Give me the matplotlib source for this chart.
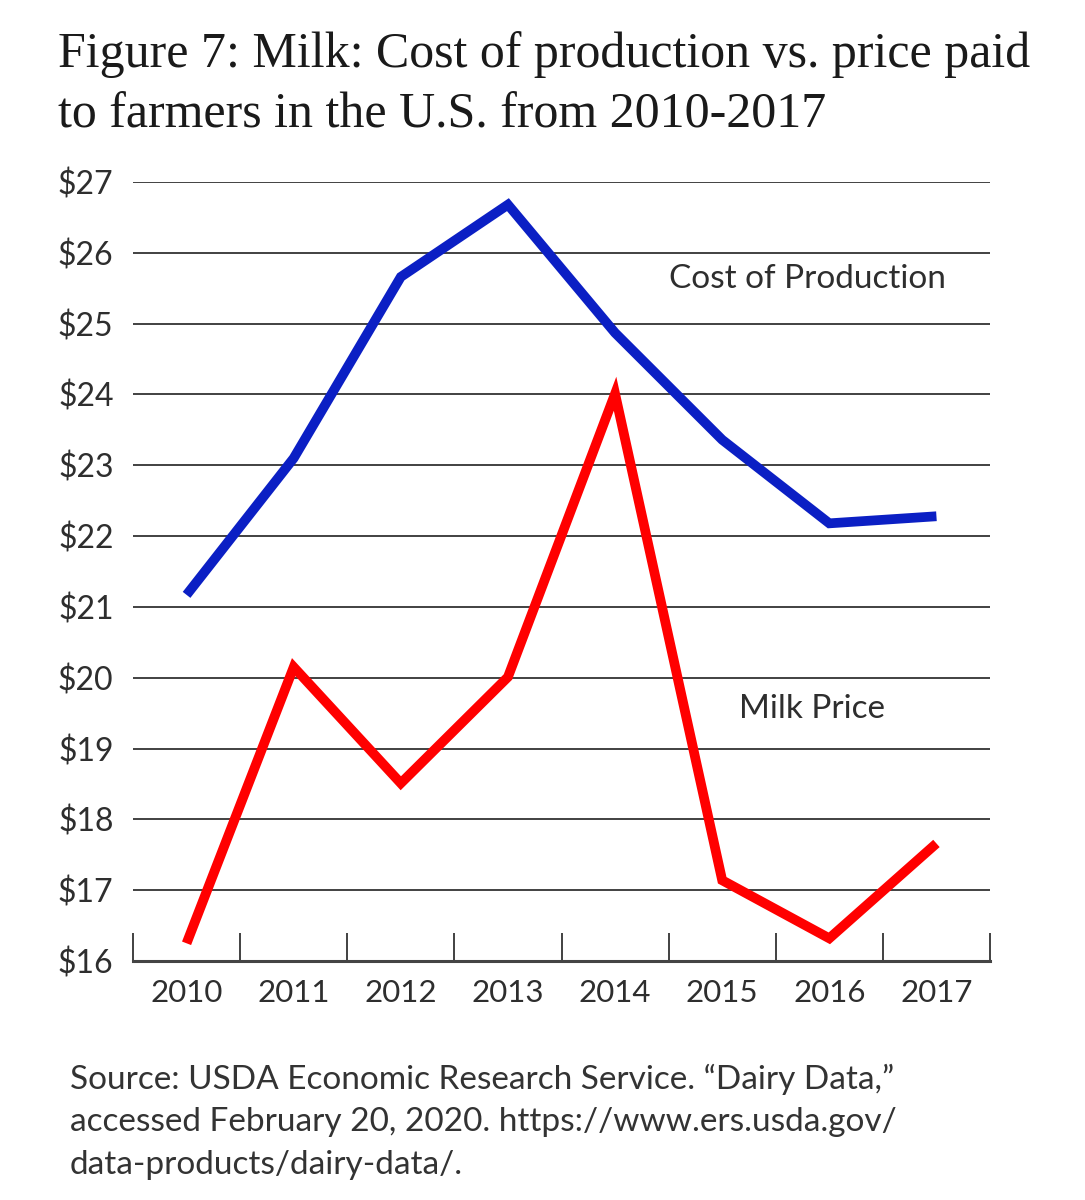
import matplotlib
matplotlib.use("Agg")
import matplotlib.pyplot as plt
from matplotlib.ticker import FixedLocator

years = ["2010", "2011", "2012", "2013", "2014", "2015", "2016", "2017"]
cost_of_production = [21.17, 23.10, 25.66, 26.68, 24.87, 23.36, 22.18, 22.28]
milk_price = [16.25, 20.15, 18.51, 20.01, 24.01, 17.14, 16.32, 17.66]
y_ticks = list(range(16, 28))
y_labels = [f"${v}" for v in y_ticks]

sans = ["Lato", "DejaVu Sans"]
serif = ["Liberation Serif", "DejaVu Serif"]
txt_color = "#2e2e2e"

fig = plt.figure(figsize=(10.85, 12), dpi=100)
ax = fig.add_axes([133/1085, 1 - 961/1200, (990-133)/1085, (961-182)/1200])

x = list(range(len(years)))
ax.plot(x, cost_of_production, color="#0b1fc4", lw=7, solid_capstyle="butt", solid_joinstyle="miter", zorder=3)
ax.plot(x, milk_price, color="#ff0000", lw=7, solid_capstyle="butt", solid_joinstyle="miter", zorder=3)

ax.set_xlim(-0.5, len(years) - 0.5)
ax.set_ylim(16, 27)

ax.yaxis.set_major_locator(FixedLocator(y_ticks))
ax.set_yticklabels(y_labels, fontsize=23, color=txt_color, family=sans)
ax.tick_params(axis="y", length=0, pad=14)
for v in y_ticks[1:]:
    ax.axhline(v, color="#333333", lw=1.3, zorder=1)

ax.xaxis.set_major_locator(FixedLocator([i - 0.5 for i in range(len(years) + 1)]))
ax.xaxis.set_minor_locator(FixedLocator(x))
ax.set_xticklabels([""] * (len(years) + 1))
ax.set_xticklabels(years, minor=True, fontsize=22.5, color=txt_color, family=sans)
ax.tick_params(axis="x", which="major", direction="in", length=20, width=1.3, color="#333333")
ax.tick_params(axis="x", which="minor", length=0, pad=13)

for s in ["top", "right", "left"]:
    ax.spines[s].set_visible(False)
ax.spines["bottom"].set_color("#444444")
ax.spines["bottom"].set_linewidth(2.2)

ax.text(0.948, 0.875, "Cost of Production", transform=ax.transAxes, ha="right", va="center",
        fontsize=24, color=txt_color, family=sans)
ax.text(0.877, 0.324, "Milk Price", transform=ax.transAxes, ha="right", va="center",
        fontsize=24, color=txt_color, family=sans)

fig.text(58/1085, 1 - 55/1200, "Figure 7: Milk: Cost of production vs. price paid", ha="left", va="center",
         fontsize=36, color="#1a1a1a", family=serif)
fig.text(58/1085, 1 - 115/1200, "to farmers in the U.S. from 2010-2017", ha="left", va="center",
         fontsize=36, color="#1a1a1a", family=serif)

source_lines = [
    "Source: USDA Economic Research Service. \u201cDairy Data,\u201d",
    "accessed February 20, 2020. https://www.ers.usda.gov/",
    "data-products/dairy-data/.",
]
for i, line in enumerate(source_lines):
    fig.text(70/1085, 1 - (1079 + 43*i)/1200, line, ha="left", va="center",
             fontsize=24, color="#333333", family=sans)

fig.savefig("out.png", dpi=100, facecolor="white")
